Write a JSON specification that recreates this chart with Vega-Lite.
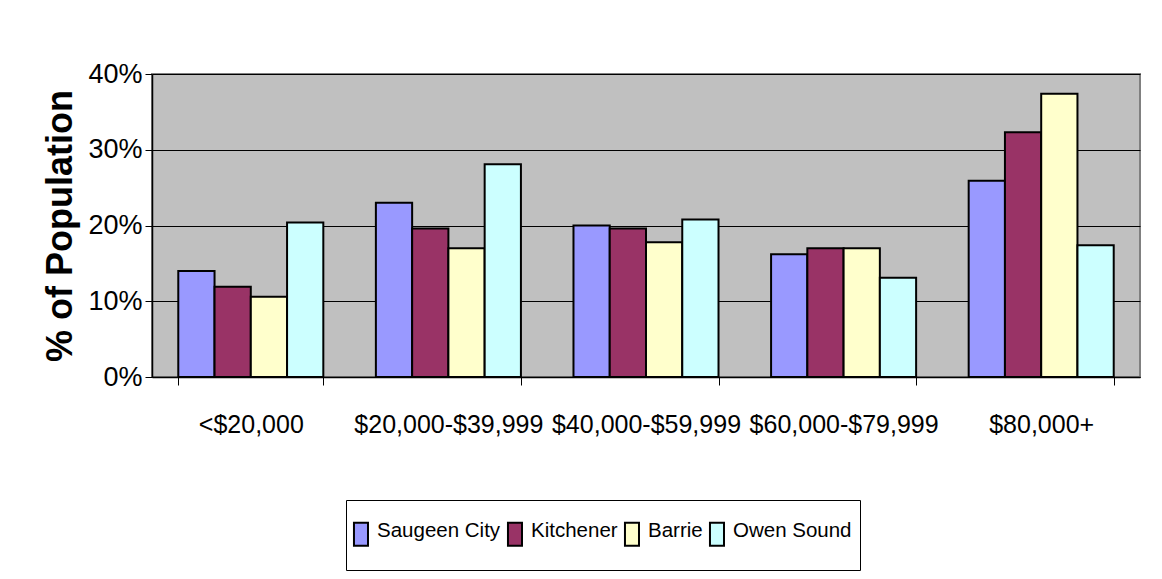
{
  "$schema": "https://vega.github.io/schema/vega-lite/v6.json",
  "autosize": "none",
  "width": 988,
  "height": 303,
  "padding": {"left": 152, "top": 74, "right": 22, "bottom": 202},
  "background": "white",
  "data": {
    "values": [
      {"income": "<$20,000", "city": "Saugeen City", "pct": 0.140},
      {"income": "<$20,000", "city": "Kitchener", "pct": 0.119},
      {"income": "<$20,000", "city": "Barrie", "pct": 0.106},
      {"income": "<$20,000", "city": "Owen Sound", "pct": 0.204},
      {"income": "$20,000-$39,999", "city": "Saugeen City", "pct": 0.230},
      {"income": "$20,000-$39,999", "city": "Kitchener", "pct": 0.196},
      {"income": "$20,000-$39,999", "city": "Barrie", "pct": 0.170},
      {"income": "$20,000-$39,999", "city": "Owen Sound", "pct": 0.281},
      {"income": "$40,000-$59,999", "city": "Saugeen City", "pct": 0.200},
      {"income": "$40,000-$59,999", "city": "Kitchener", "pct": 0.196},
      {"income": "$40,000-$59,999", "city": "Barrie", "pct": 0.178},
      {"income": "$40,000-$59,999", "city": "Owen Sound", "pct": 0.208},
      {"income": "$60,000-$79,999", "city": "Saugeen City", "pct": 0.162},
      {"income": "$60,000-$79,999", "city": "Kitchener", "pct": 0.170},
      {"income": "$60,000-$79,999", "city": "Barrie", "pct": 0.170},
      {"income": "$60,000-$79,999", "city": "Owen Sound", "pct": 0.131},
      {"income": "$80,000+", "city": "Saugeen City", "pct": 0.259},
      {"income": "$80,000+", "city": "Kitchener", "pct": 0.323},
      {"income": "$80,000+", "city": "Barrie", "pct": 0.374},
      {"income": "$80,000+", "city": "Owen Sound", "pct": 0.174}
    ]
  },
  "mark": {"type": "bar", "stroke": "black", "strokeWidth": 2},
  "encoding": {
    "x": {
      "field": "income",
      "type": "nominal",
      "sort": ["<$20,000", "$20,000-$39,999", "$40,000-$59,999", "$60,000-$79,999", "$80,000+"],
      "scale": {"paddingInner": 0.266, "paddingOuter": 0.133},
      "axis": {
        "title": null,
        "labelAngle": 0,
        "labelFont": "Liberation Sans",
        "labelFontSize": 25,
        "labelColor": "black",
        "labelPadding": 27,
        "tickBand": "extent",
        "tickSize": 8,
        "tickColor": "black",
        "tickWidth": 1,
        "domainColor": "black",
        "domainWidth": 1.5,
        "labelLimit": 300
      }
    },
    "xOffset": {
      "field": "city",
      "type": "nominal",
      "sort": ["Saugeen City", "Kitchener", "Barrie", "Owen Sound"],
      "scale": {"paddingInner": 0, "paddingOuter": 0}
    },
    "y": {
      "field": "pct",
      "type": "quantitative",
      "scale": {"domain": [0, 0.4], "nice": false},
      "axis": {
        "title": "% of Population",
        "titleFont": "Liberation Sans",
        "titleFontSize": 36,
        "titleFontWeight": "bold",
        "titleColor": "black",
        "titlePadding": 8,
        "format": "0%",
        "values": [0, 0.1, 0.2, 0.3, 0.4],
        "labelFont": "Liberation Sans",
        "labelFontSize": 27,
        "labelColor": "black",
        "labelPadding": 3,
        "tickSize": 7,
        "tickColor": "black",
        "tickWidth": 1,
        "domainColor": "black",
        "domainWidth": 1.5,
        "grid": true,
        "gridColor": "black",
        "gridWidth": 1
      }
    },
    "color": {
      "field": "city",
      "type": "nominal",
      "sort": ["Saugeen City", "Kitchener", "Barrie", "Owen Sound"],
      "scale": {
        "domain": ["Saugeen City", "Kitchener", "Barrie", "Owen Sound"],
        "range": ["#9999FF", "#993366", "#FFFFCC", "#CCFFFF"]
      },
      "legend": {
        "title": null,
        "orient": "none",
        "legendX": 194,
        "legendY": 426,
        "direction": "horizontal",
        "strokeColor": "black",
        "fillColor": "white",
        "padding": 8,
        "labelFont": "Liberation Sans",
        "labelFontSize": 20.5,
        "labelColor": "black",
        "labelBaseline": "top",
        "labelOffset": -2,
        "columnPadding": 2,
        "symbolType": "M-1.09,0.17H0.13V2.17H-1.09Z M0,3.2",
        "symbolSize": 529,
        "symbolStrokeColor": "black",
        "symbolStrokeWidth": 2,
        "symbolOpacity": 1
      }
    }
  },
  "config": {
    "view": {"fill": "#C0C0C0", "stroke": "#808080", "strokeWidth": 2}
  }
}
